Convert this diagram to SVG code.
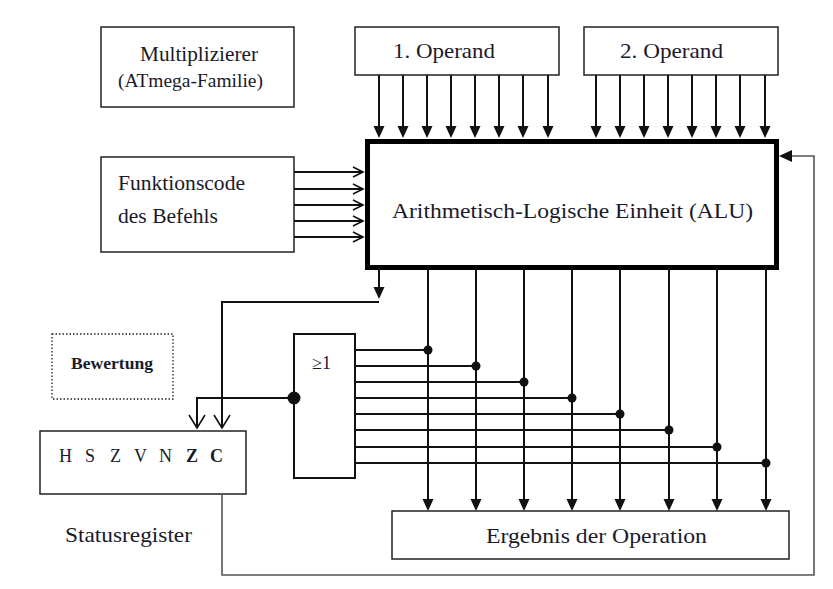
<svg xmlns="http://www.w3.org/2000/svg" width="833" height="589" viewBox="0 0 833 589" font-family="'Liberation Serif', 'DejaVu Serif', serif">
<style>
.box{fill:#fff;stroke:#222;stroke-width:1.5}
.t{fill:#1a1a2a;font-family:'Liberation Serif','DejaVu Serif',serif}
.ln{fill:none;stroke:#111;stroke-width:2}
.fb{fill:none;stroke:#555;stroke-width:1.6}
.tri{fill:#111}
.open{fill:none;stroke:#111;stroke-width:1.6}
.dot{fill:#111}
</style>
<defs>
<path id="tdown" d="M-5.5,-12 L5.5,-12 L0,0 Z"/>
<path id="vopen" d="M-8,-13 L0,0 L8,-13"/>
<path id="gtr" d="M-10,-5 L0,0 L-10,5"/>
</defs>
<rect width="833" height="589" fill="#fff"/>

<g id="multiplizierer">
<rect class="box" x="101" y="27" width="193" height="80"/>
<text class="t" x="140" y="61" font-size="20" textLength="118" lengthAdjust="spacingAndGlyphs">Multiplizierer</text>
<text class="t" x="118" y="87" font-size="18" textLength="145" lengthAdjust="spacingAndGlyphs">(ATmega-Familie)</text>
</g>

<g id="operand1">
<rect class="box" x="355" y="27" width="204" height="48"/>
<text class="t" x="393" y="58" font-size="21" textLength="102" lengthAdjust="spacingAndGlyphs">1. Operand</text>
</g>

<g id="operand2">
<rect class="box" x="584" y="27" width="194" height="48"/>
<text class="t" x="620" y="58" font-size="21" textLength="103" lengthAdjust="spacingAndGlyphs">2. Operand</text>
</g>

<g id="funktionscode">
<rect class="box" x="101" y="157" width="193" height="95"/>
<text class="t" x="118" y="190" font-size="20" textLength="127" lengthAdjust="spacingAndGlyphs">Funktionscode</text>
<text class="t" x="118" y="223" font-size="20" textLength="100" lengthAdjust="spacingAndGlyphs">des Befehls</text>
</g>

<g id="alu">
<rect x="367.5" y="141.5" width="409" height="126" fill="#fff" stroke="#000" stroke-width="5"/>
<text class="t" x="392" y="218" font-size="22" textLength="361" lengthAdjust="spacingAndGlyphs">Arithmetisch-Logische Einheit (ALU)</text>
</g>

<g id="bewertung">
<rect x="52" y="334" width="121" height="65" fill="#fff" stroke="#222" stroke-width="1.3" stroke-dasharray="1.5,2"/>
<text class="t" x="71" y="369" font-size="16" font-weight="bold" textLength="82" lengthAdjust="spacingAndGlyphs">Bewertung</text>
</g>

<g id="oder">
<rect x="294" y="334" width="61" height="144" fill="#fff" stroke="#111" stroke-width="2"/>
<text class="t" x="312" y="369" font-size="18">≥1</text>
</g>

<g id="statusregister">
<rect class="box" x="40" y="431" width="206" height="63"/>
<g class="t" font-size="18">
<text x="59" y="462">H</text>
<text x="85" y="462">S</text>
<text x="110" y="462">Z</text>
<text x="134" y="462">V</text>
<text x="159" y="462">N</text>
<text x="186" y="462" font-weight="bold">Z</text>
<text x="210" y="462" font-weight="bold">C</text>
</g>
<text class="t" x="65" y="542" font-size="21" textLength="127" lengthAdjust="spacingAndGlyphs">Statusregister</text>
</g>

<g id="ergebnis">
<rect class="box" x="392" y="511" width="397" height="48"/>
<text class="t" x="486" y="543" font-size="21" textLength="221" lengthAdjust="spacingAndGlyphs">Ergebnis der Operation</text>
</g>

<g id="connectors">
<g class="ln">
<path d="M379,75V127 M403,75V127 M427,75V127 M451,75V127 M475,75V127 M499,75V127 M523,75V127 M548,75V127"/>
<path d="M596,75V127 M620,75V127 M644,75V127 M668,75V127 M692,75V127 M716,75V127 M740,75V127 M765,75V127"/>
</g>
<g class="tri">
<use href="#tdown" x="379" y="138"/><use href="#tdown" x="403" y="138"/><use href="#tdown" x="427" y="138"/><use href="#tdown" x="451" y="138"/>
<use href="#tdown" x="475" y="138"/><use href="#tdown" x="499" y="138"/><use href="#tdown" x="523" y="138"/><use href="#tdown" x="548" y="138"/>
<use href="#tdown" x="596" y="138"/><use href="#tdown" x="620" y="138"/><use href="#tdown" x="644" y="138"/><use href="#tdown" x="668" y="138"/>
<use href="#tdown" x="692" y="138"/><use href="#tdown" x="716" y="138"/><use href="#tdown" x="740" y="138"/><use href="#tdown" x="765" y="138"/>
</g>
<g class="ln">
<path d="M294,172H362 M294,189H362 M294,205H362 M294,221H362 M294,237H362"/>
</g>
<g class="open">
<use href="#gtr" x="363" y="172"/><use href="#gtr" x="363" y="189"/><use href="#gtr" x="363" y="205"/><use href="#gtr" x="363" y="221"/><use href="#gtr" x="363" y="237"/>
</g>
<g class="ln">
<path d="M428,268V500 M476,268V500 M524,268V500 M572,268V500 M620,268V500 M669,268V500 M717,268V500 M766,268V500"/>
</g>
<g class="tri">
<use href="#tdown" x="428" y="511"/><use href="#tdown" x="476" y="511"/><use href="#tdown" x="524" y="511"/><use href="#tdown" x="572" y="511"/>
<use href="#tdown" x="620" y="511"/><use href="#tdown" x="669" y="511"/><use href="#tdown" x="717" y="511"/><use href="#tdown" x="766" y="511"/>
</g>
<g class="ln">
<path d="M355,350H428 M355,366H476 M355,382H524 M355,398H572 M355,414H620 M355,430H669 M355,447H717 M355,463H766"/>
</g>
<g class="dot">
<circle cx="428" cy="350" r="4.5"/><circle cx="476" cy="366" r="4.5"/><circle cx="524" cy="382" r="4.5"/><circle cx="572" cy="398" r="4.5"/>
<circle cx="620" cy="414" r="4.5"/><circle cx="669" cy="430" r="4.5"/><circle cx="717" cy="447" r="4.5"/><circle cx="766" cy="463" r="4.5"/>
</g>
<path class="ln" d="M379,268V288"/>
<use class="tri" href="#tdown" x="379" y="299"/>
<path class="ln" d="M379,302H222V427"/>
<use class="open" href="#vopen" x="222" y="428"/>
<path class="ln" d="M294,398H197V427"/>
<use class="open" href="#vopen" x="197" y="428"/>
<circle class="dot" cx="294" cy="398" r="6.5"/>
<path class="fb" d="M222,494V575H814V156H790"/>
<path class="tri" d="M779,156 L792,150 L792,162 Z"/>
</g>
</svg>
